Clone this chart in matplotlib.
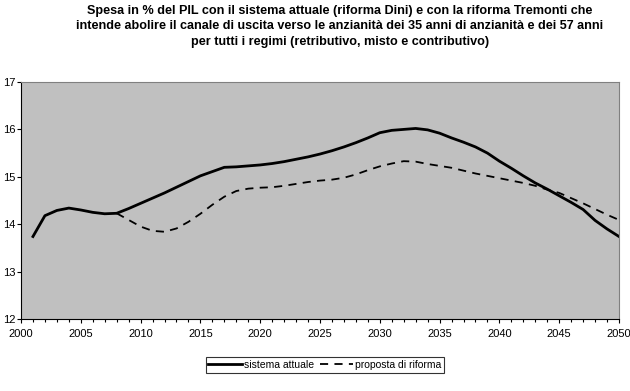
import numpy as np
import matplotlib.pyplot as plt
from matplotlib.ticker import MultipleLocator
import matplotlib.transforms as mtransforms

plt.rcParams['font.family'] = ['Liberation Sans', 'DejaVu Sans']

# anni e valori (spesa in % del PIL)
anni_attuale = list(range(2001, 2051))
sistema_attuale = [13.74, 14.18, 14.29, 14.34, 14.30, 14.25, 14.22, 14.23, 14.33, 14.44,
                   14.55, 14.66, 14.78, 14.90, 15.02, 15.11, 15.20, 15.21, 15.23, 15.25,
                   15.28, 15.32, 15.37, 15.42, 15.48, 15.55, 15.63, 15.72, 15.82, 15.93,
                   15.98, 16.00, 16.02, 15.99, 15.92, 15.82, 15.73, 15.63, 15.50, 15.33,
                   15.18, 15.02, 14.87, 14.74, 14.60, 14.46, 14.31, 14.08, 13.90, 13.74]

anni_riforma = list(range(2008, 2051))
proposta_riforma = [14.23, 14.09, 13.95, 13.86, 13.84, 13.91, 14.05, 14.22, 14.41, 14.58,
                    14.70, 14.75, 14.77, 14.78, 14.81, 14.85, 14.89, 14.92, 14.94, 14.98,
                    15.05, 15.14, 15.22, 15.28, 15.33, 15.32, 15.27, 15.23, 15.19, 15.13,
                    15.07, 15.02, 14.97, 14.92, 14.87, 14.81, 14.73, 14.66, 14.55, 14.44,
                    14.32, 14.20, 14.09]

titolo = ("Spesa in % del PIL con il sistema attuale (riforma Dini) e con la riforma Tremonti che\n"
          "intende abolire il canale di uscita verso le anzianità dei 35 anni di anzianità e dei 57 anni\n"
          "per tutti i regimi (retributivo, misto e contributivo)")

fig = plt.figure(figsize=(6.3, 3.91), dpi=100)
ax = fig.add_axes([21/630, 1-319/391, 598/630, 237/391])
ax.set_facecolor('#c0c0c0')

ax.plot(anni_attuale, sistema_attuale, color='black', lw=2.0, label='sistema attuale')
ax.plot(anni_riforma, proposta_riforma, color='black', lw=1.3, ls=(0, (4.5, 3.5)),
        label='proposta di riforma')

ax.set_xlim(2000, 2050)
ax.set_ylim(12, 17)
ax.xaxis.set_major_locator(MultipleLocator(5))
ax.xaxis.set_minor_locator(MultipleLocator(1))
ax.yaxis.set_major_locator(MultipleLocator(1))
ax.tick_params(axis='both', which='both', labelsize=8, direction='out', length=3, width=0.8)
ax.tick_params(axis='x', which='minor', length=2)
ax.tick_params(axis='x', pad=4)
ax.tick_params(axis='y', pad=1)
for s in ax.spines.values():
    s.set_linewidth(0.8)
ax.spines['top'].set_color('#808080')
ax.spines['right'].set_color('#808080')

# l'ultima etichetta (2050) spostata a sinistra per restare nella figura
fig.canvas.draw()
ultima = ax.get_xticklabels()[-1]
ultima.set_horizontalalignment('right')
ultima.set_transform(ultima.get_transform() +
                     mtransforms.ScaledTranslation(5/100, 0, fig.dpi_scale_trans))

fig.text(340/630, 1-5/391, titolo, ha='center', va='top', fontsize=9.1,
         fontweight='bold', linespacing=1.38)

leg = fig.legend(loc='center', bbox_to_anchor=(325/630, 1-365/391), ncol=2,
                 fontsize=7.5, frameon=True, fancybox=False, handlelength=3.2,
                 handletextpad=0.2, columnspacing=0.6, borderpad=0.25)
leg.get_frame().set_edgecolor('black')
leg.get_frame().set_linewidth(0.8)

fig.savefig('out.png', dpi=100)
